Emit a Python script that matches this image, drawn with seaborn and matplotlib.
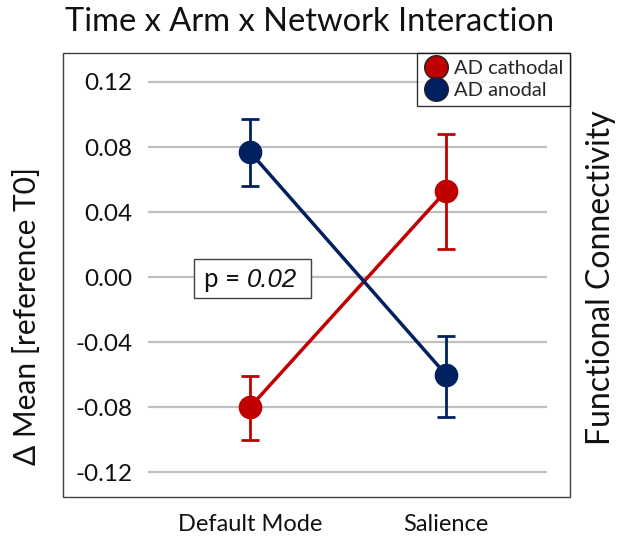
import matplotlib
matplotlib.use("Agg")
import matplotlib.pyplot as plt
import seaborn as sns
import pandas as pd
from matplotlib.lines import Line2D
from matplotlib.patches import Rectangle
from matplotlib.text import Annotation

networks = ["Default Mode", "Salience"]
arms = ["AD cathodal", "AD anodal"]
cathodal_mean = [-0.080, 0.053]
cathodal_low = [-0.100, 0.017]
cathodal_high = [-0.061, 0.088]
anodal_mean = [0.077, -0.060]
anodal_low = [0.056, -0.086]
anodal_high = [0.097, -0.036]
yticks = [0.12, 0.08, 0.04, 0.00, -0.04, -0.08, -0.12]
colors = {"AD cathodal": "#C00000", "AD anodal": "#002060"}

sns.set_theme(style="white")
plt.rcParams['font.family'] = ['Lato', 'DejaVu Sans']

df = pd.DataFrame({
    "network": networks * 2,
    "arm": [arms[0]] * 2 + [arms[1]] * 2,
    "value": cathodal_mean + anodal_mean,
})

W, H = 619, 536
fig = plt.figure(figsize=(W / 100, H / 100), dpi=100)
ax = fig.add_axes([148 / W, (H - 495) / H, 399 / W, 440 / H])

# gridlines
ax.set_ylim(-0.134, 0.1366)
ax.set_yticks(yticks)
ax.set_yticklabels([f"{v:.2f}" for v in yticks])
ax.yaxis.grid(True, color="#BFBFBF", linewidth=1.6)
ax.xaxis.grid(False)
ax.set_axisbelow(True)

sns.pointplot(data=df, x="network", y="value", hue="arm", order=networks,
              hue_order=arms, palette=colors, errorbar=None, ax=ax,
              markers="o", linestyles="-", legend=False, zorder=3)
for line in ax.lines:
    line.set_linewidth(2.5)
    line.set_markersize(15)

for arm, m, lo, hi in [(arms[0], cathodal_mean, cathodal_low, cathodal_high),
                       (arms[1], anodal_mean, anodal_low, anodal_high)]:
    yerr = [[mm - l for mm, l in zip(m, lo)], [h - mm for mm, h in zip(m, hi)]]
    ax.errorbar([0, 1], m, yerr=yerr, fmt="none", ecolor=colors[arm],
                elinewidth=2.0, capsize=6.5, capthick=2.0, zorder=2)

ax.set_xlim(-0.52, 1.515)
for s in ax.spines.values():
    s.set_visible(False)
ax.tick_params(axis="y", length=0, pad=11, labelsize=17.5, labelcolor="#111111")
ax.tick_params(axis="x", length=0, pad=14, labelsize=17, labelcolor="#111111")
ax.set_xlabel("")
ax.set_ylabel("")

# outer frame
fig.patches.append(Rectangle((63 / W, (H - 497) / H), (570 - 63) / W, (497 - 53) / H,
                             transform=fig.transFigure, fill=False,
                             edgecolor="#404040", linewidth=1.0, zorder=0))

# p-value box
fig.patches.append(Rectangle((194 / W, (H - 298) / H), (311 - 194) / W, (298 - 259) / H,
                             transform=fig.transFigure, facecolor="white",
                             edgecolor="#404040", linewidth=1.0, zorder=4))
t1 = fig.text(204 / W, 1 - 287 / H, "p = ", ha="left", va="baseline",
              fontsize=18.5, color="#111111", zorder=5)
a2 = Annotation("0.02", xy=(1, 0), xycoords=t1, xytext=(0, 0),
                textcoords="offset points", ha="left", va="bottom",
                fontsize=18.5, color="#111111", style="italic",
                family=["Liberation Sans", "DejaVu Sans"], zorder=5)
fig.add_artist(a2)

# legend
handles = [Line2D([], [], marker="o", linestyle="none", markersize=17,
                  markerfacecolor=colors[a], markeredgecolor="#202020",
                  markeredgewidth=1.0, label=a) for a in arms]
leg = fig.legend(handles=handles, loc="upper right",
                 bbox_to_anchor=(570 / W, (H - 53) / H),
                 frameon=True, fancybox=False, fontsize=14.5,
                 handletextpad=0.25, labelspacing=0.25, borderpad=0.35,
                 handlelength=1.2, borderaxespad=0)
leg.get_frame().set_edgecolor("black")
leg.get_frame().set_linewidth(1.0)

fig.text(310 / W, 1 - 22 / H, "Time x Arm x Network Interaction", ha="center",
         va="center", fontsize=23.5, color="#111111")
fig.text(27 / W, 1 - 316 / H, "Δ Mean [reference T0]", rotation=90, ha="center",
         va="center", fontsize=21.5, color="#111111")
fig.text(601 / W, 1 - 278 / H, "Functional Connectivity", rotation=90, ha="center",
         va="center", fontsize=23, color="#111111")

fig.savefig("out.png", dpi=100)
